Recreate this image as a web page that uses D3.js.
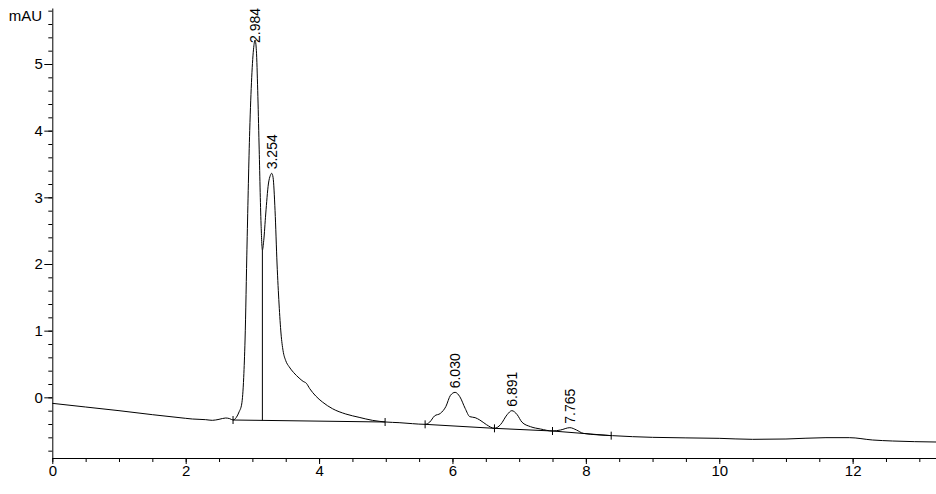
<!DOCTYPE html>
<html>
<head>
<meta charset="utf-8">
<script src="https://cdn.jsdelivr.net/npm/d3@7"></script>
<style>
  html, body { margin: 0; padding: 0; background: #fff; }
  svg { display: block; font-family: "Liberation Sans", Arial, sans-serif; }
</style>
</head>
<body>
<svg id="chart" width="936" height="494"></svg>
<script>
// ---- data ----
const times = [0.00,0.50,1.00,1.50,2.00,2.10,2.30,2.40,2.50,2.60,2.66,2.71,2.76,2.80,2.84,2.87,2.89,2.92,2.96,2.99,
  3.02,3.04,3.06,3.08,3.10,3.13,3.15,3.17,3.20,3.24,3.27,3.29,3.31,3.34,3.37,3.40,3.43,3.46,3.50,3.55,
  3.62,3.70,3.76,3.81,3.86,3.95,4.05,4.20,4.40,4.60,4.80,5.00,5.20,5.40,5.59,5.66,5.73,5.82,5.90,5.97,
  6.04,6.11,6.19,6.26,6.34,6.41,6.51,6.63,6.72,6.82,6.89,6.97,7.04,7.17,7.32,7.50,7.62,7.76,7.86,7.96,
  8.40,9.00,10.00,10.50,11.00,11.60,11.95,12.30,12.60,13.25];
const signal = [-0.09,-0.145,-0.20,-0.26,-0.315,-0.325,-0.335,-0.345,-0.33,-0.31,-0.32,-0.34,-0.30,-0.22,-0.10,0.30,0.86,2.30,4.00,4.80,
  5.25,5.36,5.20,4.60,3.80,2.60,2.21,2.35,2.75,3.20,3.33,3.36,3.30,2.80,2.00,1.40,0.95,0.70,0.55,0.46,
  0.37,0.29,0.24,0.21,0.13,0.02,-0.07,-0.17,-0.25,-0.30,-0.345,-0.37,-0.38,-0.395,-0.405,-0.37,-0.28,-0.24,-0.14,0.03,
  0.075,0.01,-0.165,-0.29,-0.305,-0.34,-0.41,-0.465,-0.41,-0.26,-0.20,-0.26,-0.37,-0.44,-0.475,-0.505,-0.49,-0.455,-0.49,-0.54,
  -0.575,-0.60,-0.615,-0.63,-0.625,-0.605,-0.605,-0.64,-0.655,-0.67];

const peakLabels = ["2.984","3.254","6.030","6.891","7.765"];
const peakTimes  = [3.04, 3.29, 6.04, 6.89, 7.76];
const peakValues = [5.36, 3.36, 0.075, -0.20, -0.455];

// integration baselines: start time, start value, end time, end value
const baseStartT = [2.71, 5.59, 6.63, 7.50];
const baseStartV = [-0.34, -0.405, -0.465, -0.505];
const baseEndT   = [4.99, 6.63, 7.50, 8.38];
const baseEndV   = [-0.37, -0.465, -0.505, -0.575];

// drop line between the two first peaks
const dropT = 3.15, dropTopV = 2.21, dropBottomV = -0.345;

const yMajorTicks = [0,1,2,3,4,5];
const xMajorTicks = [0,2,4,6,8,10,12];
const yUnit = "mAU";

// ---- drawing ----
const svg = d3.select("#chart");
const x = d3.scaleLinear().domain([0, 13.25]).range([52.3, 936]);
const y = d3.scaleLinear().domain([-0.91, 5.84]).range([458, 8]);

// minor ticks
const yMinor = d3.range(-0.8, 5.81, 0.2).map(v => Math.round(v*10)/10);
const xMinor = d3.range(0, 13.25, 0.5);

// y axis
const gy = svg.append("g").attr("transform", `translate(${x(0)},0)`);
gy.call(d3.axisLeft(y).tickValues(yMinor).tickSize(4).tickFormat("").tickSizeOuter(0));
gy.call(g => g.select(".domain").remove());
const gy2 = svg.append("g").attr("transform", `translate(${x(0)},0)`);
gy2.call(d3.axisLeft(y).tickValues(yMajorTicks).tickSize(8).tickPadding(1.5).tickSizeOuter(0).tickFormat(d3.format("d")));
gy2.selectAll("text").attr("font-size", 15).attr("fill", "#000").style("font-family", "Liberation Sans, Arial, sans-serif");
gy2.selectAll("line, path").attr("stroke", "#000");
gy.selectAll("line").attr("stroke", "#000");

// x axis
const gx = svg.append("g").attr("transform", `translate(0,${y(-0.91)})`);
gx.call(d3.axisBottom(x).tickValues(xMinor).tickSize(4).tickFormat("").tickSizeOuter(0));
gx.call(g => g.select(".domain").remove());
const gx2 = svg.append("g").attr("transform", `translate(0,${y(-0.91)})`);
gx2.call(d3.axisBottom(x).tickValues(xMajorTicks).tickSize(6).tickPadding(1).tickSizeOuter(0).tickFormat(d3.format("d")));
gx2.selectAll("text").attr("font-size", 15).attr("fill", "#000").style("font-family", "Liberation Sans, Arial, sans-serif");
gx2.selectAll("line, path").attr("stroke", "#000");
gx.selectAll("line").attr("stroke", "#000");

// unit label
svg.append("text").attr("x", 42).attr("y", 20.5).attr("text-anchor", "end")
  .attr("font-size", 15).attr("fill", "#000").text(yUnit);

// chromatogram trace
const pts = times.map((t, i) => [t, signal[i]]);
const line = d3.line().x(d => x(d[0])).y(d => y(d[1])).curve(d3.curveMonotoneX);
svg.append("path").datum(pts).attr("d", line)
  .attr("fill", "none").attr("stroke", "#000").attr("stroke-width", 1);

// integration baselines
const bl = svg.append("g").attr("stroke", "#000").attr("stroke-width", 1);
baseStartT.forEach((t0, i) => {
  bl.append("line").attr("x1", x(t0)).attr("y1", y(baseStartV[i]))
    .attr("x2", x(baseEndT[i])).attr("y2", y(baseEndV[i]));
});
// baseline end markers
const markT = Array.from(new Set(baseStartT.concat(baseEndT)));
markT.forEach(t => {
  const i = baseStartT.indexOf(t);
  const v = i >= 0 ? baseStartV[i] : baseEndV[baseEndT.indexOf(t)];
  bl.append("line").attr("x1", x(t)).attr("x2", x(t))
    .attr("y1", y(v) - 4).attr("y2", y(v) + 4);
});
// drop line
bl.append("line").attr("x1", x(dropT)).attr("x2", x(dropT))
  .attr("y1", y(dropTopV)).attr("y2", y(dropBottomV));

// peak labels
const lg = svg.append("g");
peakLabels.forEach((lab, i) => {
  const px = x(peakTimes[i]);
  const t = lg.append("text").attr("font-size", 14).attr("fill", "#000")
    .attr("text-anchor", "start").attr("dominant-baseline", "central").text(lab);
  const len = t.node().getComputedTextLength();
  const py = Math.max(y(peakValues[i]) - 4, 8 + len);
  t.attr("transform", `translate(${px},${py}) rotate(-90)`);
});
</script>
</body>
</html>
